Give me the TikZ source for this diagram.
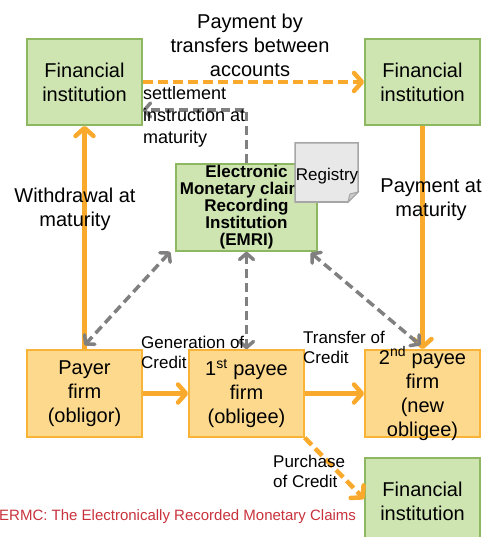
\documentclass[tikz,border=0pt]{standalone}
\usepackage{fontspec}
\setmainfont{Liberation Sans}
\usetikzlibrary{arrows.meta}
\definecolor{boxgreen}{HTML}{CEE5B2}
\definecolor{linegreen}{HTML}{8DB861}
\definecolor{boxorange}{HTML}{FDD98E}
\definecolor{lineorange}{HTML}{F9B437}
\definecolor{arroworange}{HTML}{F9AA2C}
\definecolor{arrowgray}{HTML}{808080}
\definecolor{docgray}{HTML}{E8E8E8}
\definecolor{notered}{HTML}{C8323C}

\tikzset{
 greenbox/.style={draw=linegreen, fill=boxgreen, line width=1.5pt, minimum width=115pt, minimum height=86pt, inner sep=0pt, align=center, font=\fontsize{20}{24}\selectfont},
 orangebox/.style={greenbox, draw=lineorange, fill=boxorange, minimum height=87pt},
 flow/.style={draw=arroworange, line width=4.5pt, -{Straight Barb[length=8pt,width=18pt,round]}},
 flowdash/.style={flow, dash pattern=on 10pt off 5pt},
 info/.style={draw=arrowgray, line width=3.5pt, dash pattern=on 9pt off 5pt, {Straight Barb[length=6pt,width=14pt,round]}-{Straight Barb[length=6pt,width=14pt,round]}},
 lbl/.style={font=\fontsize{20}{24}\selectfont, align=center, inner sep=0pt},
 small/.style={font=\fontsize{17}{20}\selectfont, align=left, inner sep=0pt, anchor=west},
}

\begin{document}
\begin{tikzpicture}[x=1pt,y=-1pt]
\useasboundingbox (0,0) rectangle (488,537);
% boxes
\node[greenbox] (fiA) at (84.5,82) {Financial\\institution};
\node[greenbox] (fiB) at (422.5,82) {Financial\\institution};
\node[greenbox, minimum width=141pt, minimum height=87pt, font=\bfseries\fontsize{17}{17}\selectfont] (emri) at (246.5,207.5) {Electronic\\Monetary claims\\Recording\\Institution\\(EMRI)};
\node[orangebox] (payer) at (84.5,393.5) {Payer\\firm\\(obligor)};
\node[orangebox] (pay1) at (246.5,393.5) {1\textsuperscript{st} payee\\firm\\(obligee)};
\node[orangebox] (pay2) at (422.5,393.5) {};
\node[lbl] at (pay2) {2\textsuperscript{nd} payee\\firm\\(new\\obligee)};
\node[greenbox] (fiC) at (422.5,501) {Financial\\institution};
% registry sheet
\filldraw[draw=arrowgray!70, fill=docgray, line width=1.5pt] (295,143) -- (358,143) -- (358,192) -- (348,202) -- (295,202) -- cycle;
\filldraw[draw=arrowgray!70, fill=arrowgray!40, line width=1pt] (358,192) -- (350,194) -- (348,202) -- cycle;
\node[font=\fontsize{17}{20}\selectfont, inner sep=0pt] (reg) at (327,176) {Registry};
% connectors
\draw[flowdash] (fiA) -- (fiB);
\draw[info, {}-{Straight Barb[length=6pt,width=14pt,round]}] (emri.north) |- ([yshift=-28pt]fiA.east);
\draw[flow] (payer) -- (fiA);
\draw[flow] (fiB) -- (pay2);
\draw[info] ([xshift=-5pt]emri.south west) -- ([yshift=4pt]payer.north);
\draw[info] (emri.south) -- (pay1.north);
\draw[info] ([xshift=-7pt,yshift=-1pt]emri.south east) -- ([xshift=-2pt,yshift=4pt]pay2.north);
\draw[flow] (payer) -- (pay1);
\draw[flow] (pay1) -- (pay2);
\draw[flowdash] (pay1.south east) -- ([yshift=2pt]fiC.west);
% labels
\node[lbl] (lpay) at (250,45) {Payment by\\transfers between\\accounts};
\node[small, font=\fontsize{18}{22}\selectfont] (lset) at (143,117) {settlement\\instruction at\\maturity};
\node[lbl] (lwd) at (75,209) {Withdrawal at\\maturity};
\node[lbl] (lmat) at (431,199.5) {Payment at\\maturity};
\node[small] (lgen) at (141,352) {Generation of\\Credit};
\node[small] (ltra) at (303,347) {Transfer of\\Credit};
\node[small] (lpur) at (273,471.5) {Purchase\\of Credit};
\node[inner sep=0pt, anchor=west, text=notered, font=\fontsize{15}{18}\selectfont] (note) at (-1,517) {ERMC: The Electronically Recorded Monetary Claims};
\end{tikzpicture}
\end{document}
